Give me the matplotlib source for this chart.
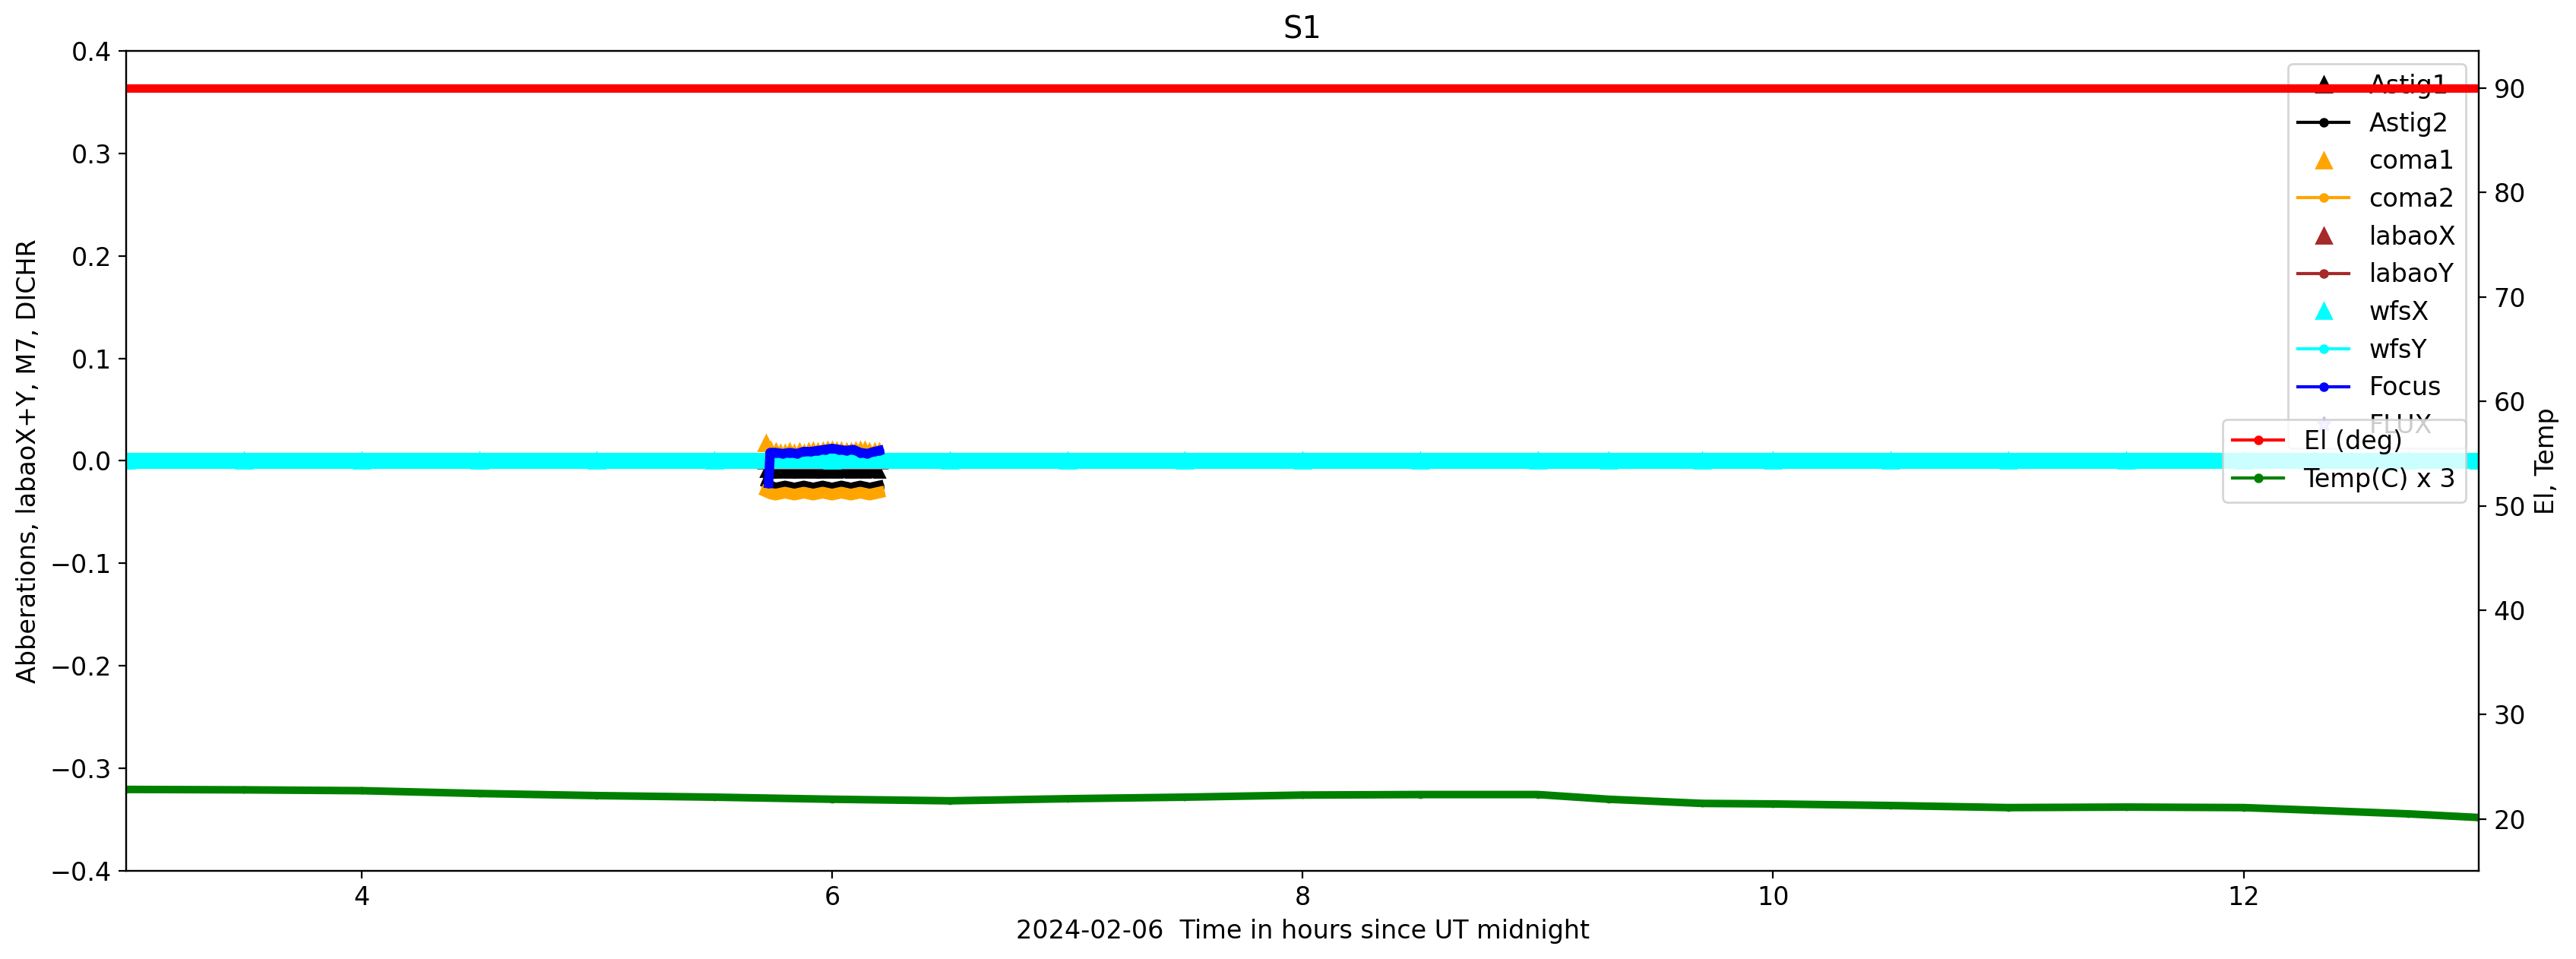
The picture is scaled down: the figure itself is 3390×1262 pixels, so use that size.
import matplotlib
matplotlib.use("Agg")
import matplotlib.pyplot as plt

# ---------------- data ----------------
# long time base (hours since UT midnight)
t_long = [3.0, 3.5, 4.0, 4.5, 5.0, 5.5, 6.0, 6.5, 7.0, 7.5, 8.0, 8.5, 9.0,
          9.3, 9.7, 10.0, 10.5, 11.0, 11.5, 12.0, 12.3, 12.7, 13.0]
el_deg = [90.0] * len(t_long)
temp_x3 = [22.84, 22.80, 22.72, 22.45, 22.25, 22.10, 21.90, 21.75, 21.95, 22.10,
           22.30, 22.35, 22.35, 21.90, 21.50, 21.45, 21.30, 21.10, 21.15, 21.10,
           20.85, 20.50, 20.15]
wfs_x = [0.0] * len(t_long)
wfs_y = [0.0] * len(t_long)

# short cluster of aberration measurements
t_c = [5.72, 5.74, 5.76, 5.78, 5.80, 5.82, 5.84, 5.86, 5.88, 5.90, 5.92, 5.94, 5.96,
       5.98, 6.00, 6.02, 6.04, 6.06, 6.08, 6.10, 6.12, 6.14, 6.16, 6.18, 6.20]
astig1 = [-0.010, -0.011, -0.011, -0.010, -0.010, -0.011, -0.010, -0.011, -0.010,
          -0.010, -0.011, -0.010, -0.011, -0.010, -0.010, -0.011, -0.010, -0.010,
          -0.011, -0.010, -0.010, -0.011, -0.010, -0.010, -0.011]
astig2 = [-0.022, -0.024, -0.026, -0.025, -0.024, -0.025, -0.026, -0.025, -0.024,
          -0.025, -0.026, -0.025, -0.024, -0.025, -0.026, -0.025, -0.024, -0.025,
          -0.026, -0.025, -0.024, -0.025, -0.026, -0.025, -0.024]
coma1 = [0.017, 0.011, 0.009, 0.008, 0.008, 0.009, 0.008, 0.009, 0.008, 0.009,
         0.010, 0.009, 0.010, 0.011, 0.011, 0.010, 0.010, 0.009, 0.009, 0.010,
         0.011, 0.011, 0.009, 0.009, 0.009]
coma2 = [-0.030, -0.032, -0.033, -0.032, -0.031, -0.032, -0.033, -0.032, -0.031,
         -0.032, -0.033, -0.032, -0.031, -0.032, -0.033, -0.032, -0.031, -0.032,
         -0.033, -0.032, -0.031, -0.032, -0.033, -0.032, -0.031]
labao_x = [0.0] * len(t_c)
labao_y = [0.0] * len(t_c)

t_focus = [5.730, 5.733, 5.737, 5.76, 5.79, 5.82, 5.85, 5.88, 5.91, 5.94, 5.97,
           6.00, 6.03, 6.06, 6.09, 6.12, 6.15, 6.18, 6.20]
focus = [-0.022, -0.010, 0.008, 0.008, 0.007, 0.008, 0.007, 0.009, 0.009, 0.010,
         0.011, 0.012, 0.011, 0.010, 0.011, 0.008, 0.007, 0.009, 0.010]
t_flux = []
flux = []

# ---------------- plot ----------------
plt.rcParams['font.family'] = ['DejaVu Sans']
plt.rcParams['font.size'] = 12

fig = plt.figure(figsize=(3391 / 200, 1262 / 200), dpi=200)
ax = fig.add_axes([0.049, 0.092, 0.913, 0.855])

ms = 7
ax.plot(t_c, astig1, '^', color='black', ms=ms, label='Astig1')
ax.plot(t_c, astig2, '.-', color='black', ms=ms, lw=4.5, label='Astig2')
ax.plot(t_c, coma1, '^', color='orange', ms=ms, label='coma1')
ax.plot(t_c, coma2, '.-', color='orange', ms=ms, lw=5.5, label='coma2')
ax.plot(t_c, labao_x, '^', color='brown', ms=ms, label='labaoX')
ax.plot(t_c, labao_y, '.-', color='brown', ms=ms, lw=4, label='labaoY')
ax.plot(t_long, wfs_x, '^', color='cyan', ms=ms, label='wfsX')
ax.plot(t_long, wfs_y, '.-', color='cyan', ms=ms, lw=7.6, label='wfsY')
ax.plot(t_focus, focus, '.-', color='blue', ms=ms, lw=4.5, label='Focus')
ax.plot(t_flux, flux, '*', color='blue', alpha=0.2, ms=ms, label='FLUX')

# make Astig1 triangles a little smaller in the plot (legend keeps size)
ax.lines[0].set_markersize(5)

ax.set_xlim(3, 13)
ax.set_ylim(-0.4, 0.4)
ax.set_xlabel('2024-02-06  Time in hours since UT midnight')
ax.set_ylabel('Abberations, labaoX+Y, M7, DICHR')
ax.set_title('S1')
leg1 = ax.legend(loc='upper right')
for h in leg1.get_lines():
    h.set_linewidth(1.5)
    h.set_markersize(ms)

ax2 = ax.twinx()
ax2.plot(t_long, el_deg, '.-', color='red', ms=5, lw=4, label='El (deg)')
ax2.plot(t_long, temp_x3, '.-', color='green', ms=5, lw=3.6, label='Temp(C) x 3')
ax2.set_ylim(15.05, 93.57)
ax2.set_ylabel('El, Temp')
leg2 = ax2.legend(loc='center right')
for h in leg2.get_lines():
    h.set_linewidth(1.5)
    h.set_markersize(ms)

fig.savefig('out.png', dpi=200)
